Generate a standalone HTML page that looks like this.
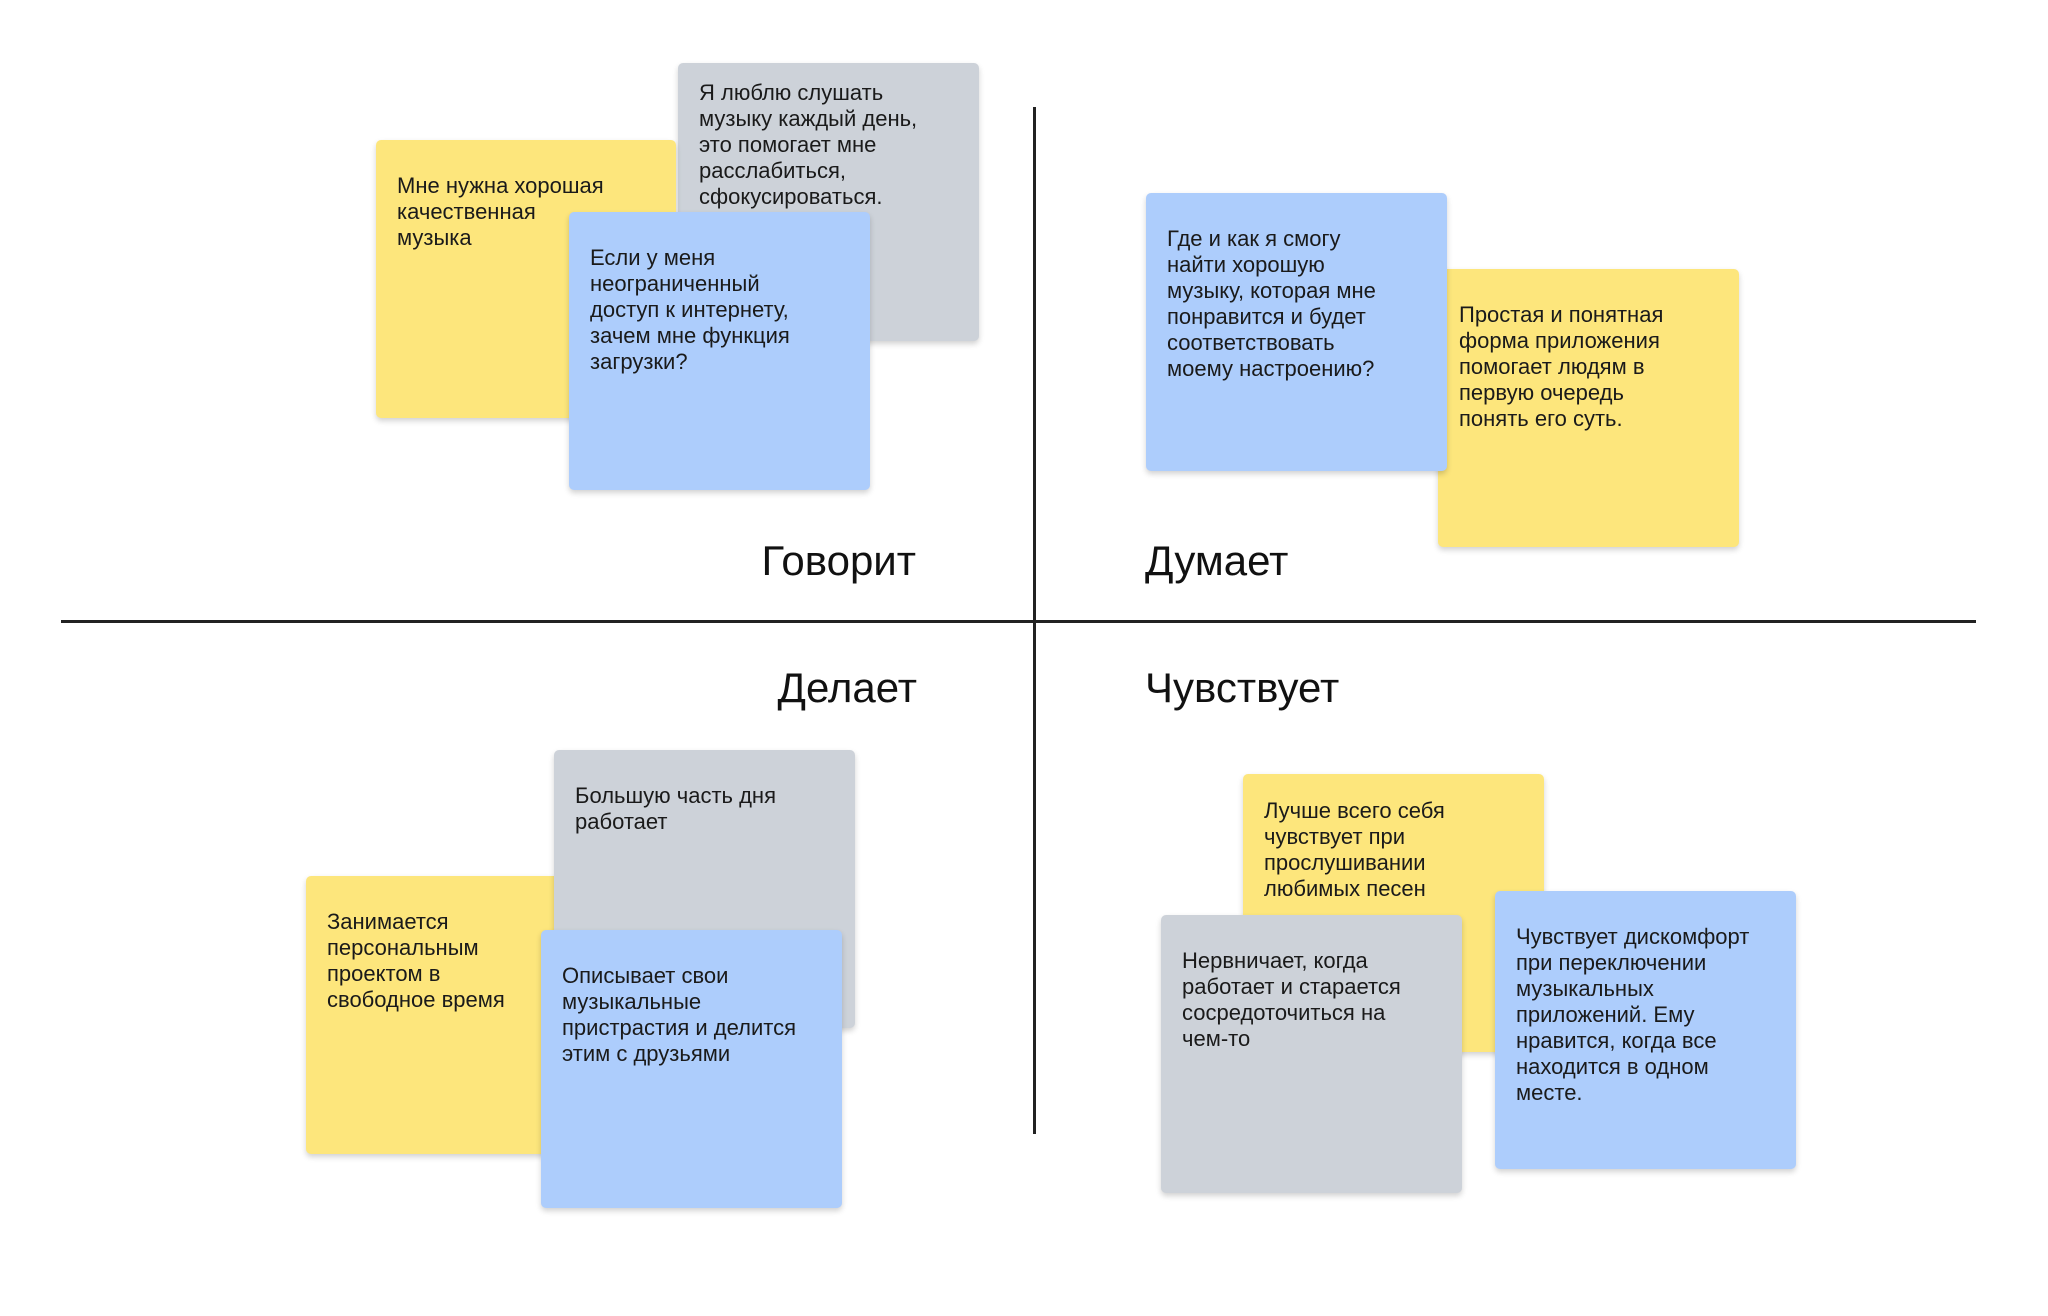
<!DOCTYPE html>
<html><head><meta charset="utf-8"><style>
body{margin:0;width:2048px;height:1316px;background:#fff;position:relative;overflow:hidden;font-family:"Liberation Sans",sans-serif;color:#1a1a1a}
.c{position:absolute;width:301px;height:278px;border-radius:5px;box-sizing:border-box;padding:33px 10px 0 21px;font-size:22px;line-height:26px;box-shadow:0 3px 6px rgba(0,0,0,.18)}
.y{background:#fde67c}.g{background:#cdd2d9}.b{background:#adcdfc}
.l{position:absolute;font-size:42px;line-height:42px;color:#111}
.h{position:absolute;background:#222}
</style></head><body>
<div class="h" style="left:61px;top:620px;width:1915px;height:3px"></div>
<div class="h" style="left:1033px;top:107px;width:3px;height:1027px"></div>

<div class="c g" style="left:678px;top:63px;padding-top:17px">Я люблю слушать<br>музыку каждый день,<br>это помогает мне<br>расслабиться,<br>сфокусироваться.</div>
<div class="c y" style="left:376px;top:140px;width:300px">Мне нужна хорошая<br>качественная<br>музыка</div>
<div class="c b" style="left:569px;top:212px">Если у меня<br>неограниченный<br>доступ к интернету,<br>зачем мне функция<br>загрузки?</div>

<div class="c y" style="left:1438px;top:269px">Простая и понятная<br>форма приложения<br>помогает людям в<br>первую очередь<br>понять его суть.</div>
<div class="c b" style="left:1146px;top:193px">Где и как я смогу<br>найти хорошую<br>музыку, которая мне<br>понравится и будет<br>соответствовать<br>моему настроению?</div>

<div class="c y" style="left:306px;top:876px">Занимается<br>персональным<br>проектом в<br>свободное время</div>
<div class="c g" style="left:554px;top:750px">Большую часть дня<br>работает</div>
<div class="c b" style="left:541px;top:930px">Описывает свои<br>музыкальные<br>пристрастия и делится<br>этим с друзьями</div>

<div class="c y" style="left:1243px;top:774px;padding-top:24px">Лучше всего себя<br>чувствует при<br>прослушивании<br>любимых песен</div>
<div class="c g" style="left:1161px;top:915px">Нервничает, когда<br>работает и старается<br>сосредоточиться на<br>чем-то</div>
<div class="c b" style="left:1495px;top:891px">Чувствует дискомфорт<br>при переключении<br>музыкальных<br>приложений. Ему<br>нравится, когда все<br>находится в одном<br>месте.</div>

<div class="l" style="right:1132px;top:540px">Говорит</div>
<div class="l" style="left:1145px;top:540px">Думает</div>
<div class="l" style="right:1131px;top:667px">Делает</div>
<div class="l" style="left:1145px;top:667px">Чувствует</div>
</body></html>
